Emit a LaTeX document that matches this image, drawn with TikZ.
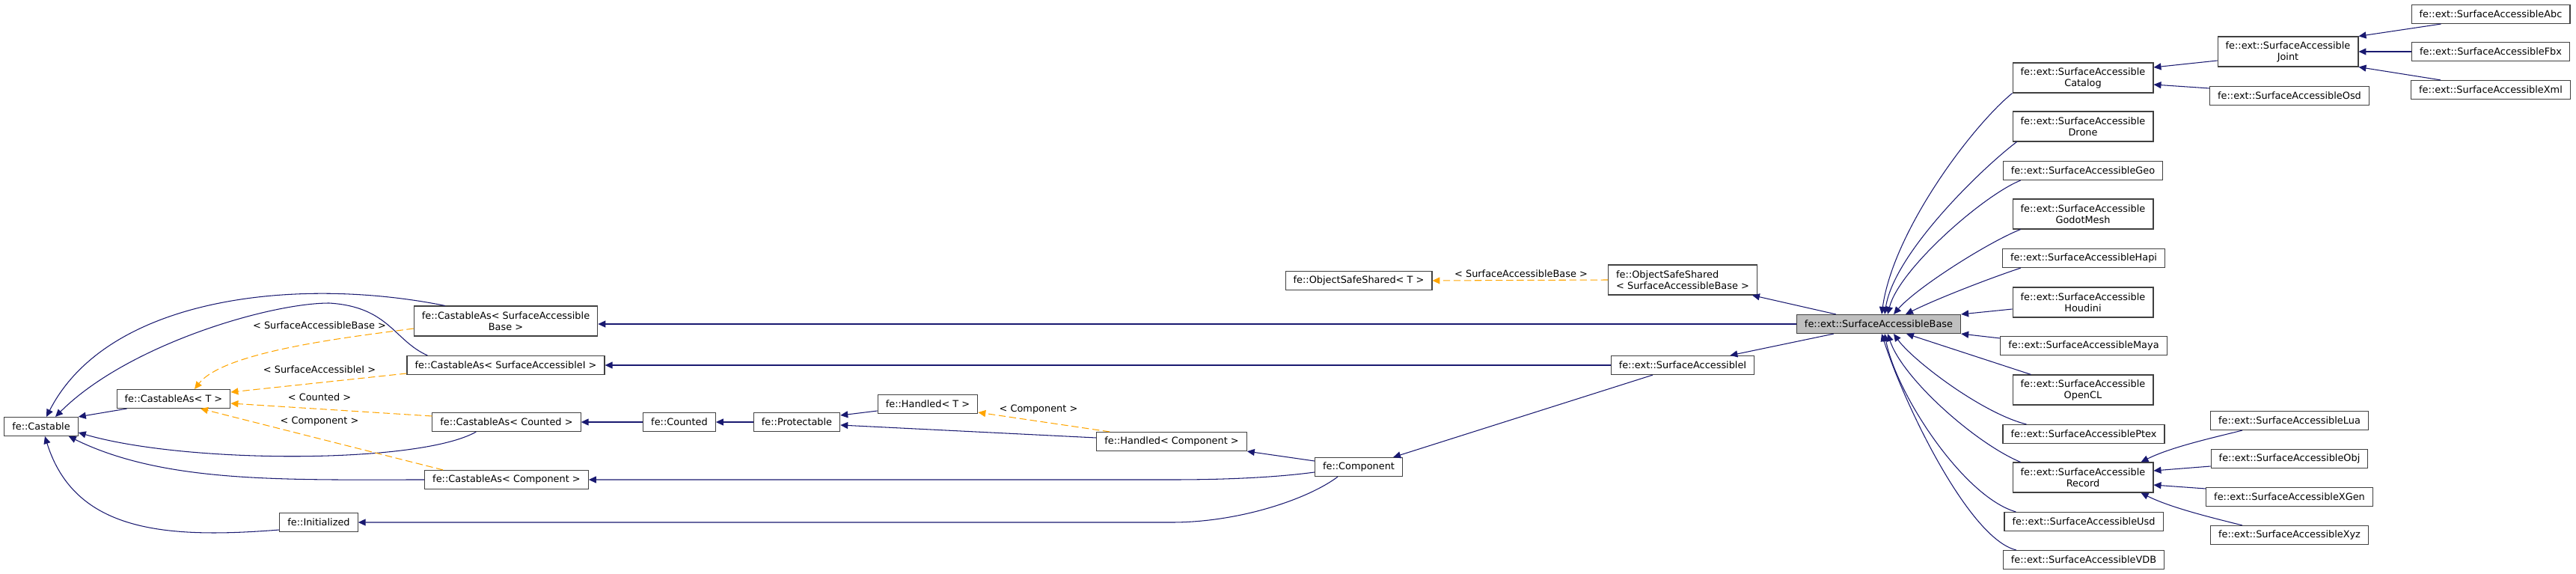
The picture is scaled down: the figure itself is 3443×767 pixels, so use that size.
\documentclass[tikz,border=0pt]{standalone}
\usepackage{fontspec}
\setmainfont{DejaVu Sans}
\usetikzlibrary{arrows.meta,calc}
\definecolor{edgeblue}{HTML}{191970}
\definecolor{tmplorange}{HTML}{FFA500}
\definecolor{boxgray}{HTML}{404040}
\definecolor{basefill}{HTML}{BFBFBF}
\begin{document}
\begin{tikzpicture}[x=0.03cm, y=-0.03cm,
		every node/.style={font=\fontsize{11}{12.8}\selectfont},
		cls/.style={draw=boxgray, line width=1pt, fill=white, inner xsep=9pt, inner ysep=2pt, minimum height=21.3pt},
		cls2/.style={cls, align=center, minimum height=34.1pt},
		inh/.style={draw=edgeblue, line width=0.9pt, -{Triangle[length=8.5pt,width=7.7pt]}},
		tmpl/.style={draw=tmplorange, line width=0.9pt, dash pattern=on 8pt off 4pt, -{Triangle[length=8.5pt,width=7.7pt]}},
		lbl/.style={inner sep=1pt}]
		\useasboundingbox (0,0) rectangle (3443,767);
		\node[cls] (castable) at (55,570) {fe::Castable};
		\node[cls] (castT) at (232,533) {fe::CastableAs< T >};
		\node[cls2] (castSAB) at (676,429) {fe::CastableAs< SurfaceAccessible\\Base >};
		\node[cls] (castSAI) at (676,488) {fe::CastableAs< SurfaceAccessibleI >};
		\node[cls] (castCnt) at (677,564) {fe::CastableAs< Counted >};
		\node[cls] (castCmp) at (677,641) {fe::CastableAs< Component >};
		\node[cls] (init) at (426,698) {fe::Initialized};
		\node[cls] (counted) at (908,564) {fe::Counted};
		\node[cls] (protect) at (1065,564) {fe::Protectable};
		\node[cls] (handT) at (1240,540) {fe::Handled< T >};
		\node[cls] (handC) at (1566,590) {fe::Handled< Component >};
		\node[cls] (component) at (1816,624) {fe::Component};
		\node[cls] (ossT) at (1816,375) {fe::ObjectSafeShared< T >};
		\node[cls2, align=left] (ossSAB) at (2249,374) {fe::ObjectSafeShared\\< SurfaceAccessibleBase >};
		\node[cls] (sai) at (2249,488) {fe::ext::SurfaceAccessibleI};
		\node[cls, fill=basefill] (sab) at (2511,433) {fe::ext::SurfaceAccessibleBase};
		\node[cls2] (catalog) at (2784,104) {fe::ext::SurfaceAccessible\\Catalog};
		\node[cls2] (drone) at (2784,169) {fe::ext::SurfaceAccessible\\Drone};
		\node[cls] (geo) at (2784,228) {fe::ext::SurfaceAccessibleGeo};
		\node[cls2] (godot) at (2784,286) {fe::ext::SurfaceAccessible\\GodotMesh};
		\node[cls] (hapi) at (2785,345) {fe::ext::SurfaceAccessibleHapi};
		\node[cls2] (houdini) at (2784,404) {fe::ext::SurfaceAccessible\\Houdini};
		\node[cls] (maya) at (2785,462) {fe::ext::SurfaceAccessibleMaya};
		\node[cls2] (opencl) at (2784,521) {fe::ext::SurfaceAccessible\\OpenCL};
		\node[cls] (ptex) at (2785,580) {fe::ext::SurfaceAccessiblePtex};
		\node[cls2] (record) at (2784,638) {fe::ext::SurfaceAccessible\\Record};
		\node[cls] (usd) at (2785,697) {fe::ext::SurfaceAccessibleUsd};
		\node[cls] (vdb) at (2785,748) {fe::ext::SurfaceAccessibleVDB};
		\node[cls2] (joint) at (3058,69) {fe::ext::SurfaceAccessible\\Joint};
		\node[cls] (osd) at (3060,128) {fe::ext::SurfaceAccessibleOsd};
		\node[cls] (abc) at (3329,19) {fe::ext::SurfaceAccessibleAbc};
		\node[cls] (fbx) at (3329,69) {fe::ext::SurfaceAccessibleFbx};
		\node[cls] (xml) at (3329,120) {fe::ext::SurfaceAccessibleXml};
		\node[cls] (lua) at (3060,562) {fe::ext::SurfaceAccessibleLua};
		\node[cls] (obj) at (3060,613) {fe::ext::SurfaceAccessibleObj};
		\node[cls] (xgen) at (3060,664) {fe::ext::SurfaceAccessibleXGen};
		\node[cls] (xyz) at (3060,715) {fe::ext::SurfaceAccessibleXyz};
		\node[lbl] (lblSAB) at (427,435) {< SurfaceAccessibleBase >};
		\node[lbl] (lblSAI) at (427,494) {< SurfaceAccessibleI >};
		\node[lbl] (lblCnt) at (427,531) {< Counted >};
		\node[lbl] (lblCmp) at (427,563) {< Component >};
		\node[lbl] (lblHand) at (1388,547) {< Component >};
		\node[lbl] (lblOss) at (2033,366) {< SurfaceAccessibleBase >};
		\draw[inh] ($(castT.south west)+(14,0)$) -- (castable.north east);
		\draw[inh] ($(castSAB.north west)+(42,0)$) .. controls +(-194,-39) and +(83,-162) .. ($(castable.north)+(7,0)$);
		\draw[inh] ($(castSAI.north west)+(28,0)$) .. controls +(-45,-20) and +(80,5) .. (440,405) .. controls +(-80,0) and +(96,-96) .. ($(castable.north)+(19,0)$);
		\draw[inh] ($(castCnt.south west)+(59,0)$) .. controls +(-76,43) and +(144,42) .. ($(castable.east)+(0,8)$);
		\draw[inh] (castCmp.west) .. controls +(-186,0) and +(128,63) .. ($(castable.south east)+(-13,0)$);
		\draw[inh] ($(init.west)+(0,10)$) .. controls +(-152,12) and +(40,128) .. ($(castable.south)+(5,0)$);
		\draw[tmpl] ($(castSAB.west)+(0,10)$) .. controls +(-82,11) and +(40,-51) .. ($(castT.north)+(28,0)$);
		\draw[tmpl] ($(castSAI.west)+(0,11)$) -- ($(castT.east)+(0,-9)$);
		\draw[tmpl] ($(castCnt.west)+(0,-8)$) -- ($(castT.east)+(0,6)$);
		\draw[tmpl] ($(castCmp.north west)+(25,0)$) -- ($(castT.south)+(36,0)$);
		\draw[inh] (counted.west) -- (castCnt.east);
		\draw[inh] (protect.west) -- (counted.east);
		\draw[inh] ($(handT.west)+(0,9)$) -- ($(protect.east)+(0,-9)$);
		\draw[inh] ($(handC.west)+(0,-5)$) -- ($(protect.east)+(0,4)$);
		\draw[tmpl] ($(handC.north west)+(18,0)$) -- ($(handT.south east)+(0,-2)$);
		\draw[inh] ($(component.west)+(0,-8)$) -- (handC.south east);
		\draw[inh] ($(component.west)+(0,7)$) .. controls +(-60,8) and +(60,0) .. (castCmp.east -| handC) -- (castCmp.east);
		\draw[inh] ($(component.south)+(-28,0)$) .. controls +(-40,30) and +(90,0) .. (init.east -| handC) -- (init.east);
		\draw[inh] ($(sai.south)+(-40,0)$) -- ($(component.north east)+(-13,0)$);
		\draw[inh] (sai.west) -- (castSAI.east);
		\draw[inh] ($(sab.south west)+(50,0)$) -- ($(sai.north east)+(-33,0)$);
		\draw[inh] (sab.west) -- ($(castSAB.east)+(0,4)$);
		\draw[inh] ($(sab.north west)+(53,0)$) -- ($(ossSAB.south east)+(-7,0)$);
		\draw[tmpl] (ossSAB.west) -- (ossT.east);
		\draw[inh] (catalog.south west) .. controls +(-55,45) and +(15,-110) .. ($(sab.north)+(4,0)$);
		\draw[inh] ($(drone.south west)+(6,0)$) .. controls +(-50,38) and +(12,-80) .. ($(sab.north)+(8,0)$);
		\draw[inh] ($(geo.south west)+(24,0)$) .. controls +(-50,20) and +(15,-60) .. ($(sab.north)+(12,0)$);
		\draw[inh] ($(godot.south west)+(11,0)$) .. controls +(-45,18) and +(30,-35) .. ($(sab.north)+(20,0)$);
		\draw[inh] ($(hapi.south west)+(25,0)$) .. controls +(-45,15) and +(40,-20) .. ($(sab.north)+(36,0)$);
		\draw[inh] ($(houdini.west)+(0,9)$) -- (sab.north east);
		\draw[inh] ($(maya.west)+(0,-10)$) -- (sab.south east);
		\draw[inh] ($(opencl.north west)+(25,0)$) -- ($(sab.south)+(37,0)$);
		\draw[inh] ($(ptex.north west)+(32,0)$) .. controls +(-60,-15) and +(25,35) .. ($(sab.south)+(20,0)$);
		\draw[inh] ($(record.north west)+(11,0)$) .. controls +(-60,-25) and +(20,60) .. ($(sab.south)+(12,0)$);
		\draw[inh] ($(usd.north west)+(16,0)$) .. controls +(-70,-20) and +(15,80) .. ($(sab.south)+(8,0)$);
		\draw[inh] ($(vdb.north west)+(18,0)$) .. controls +(-63,-15) and +(30,94) .. ($(sab.south)+(4,0)$);
		\draw[inh] ($(joint.west)+(0,12)$) -- ($(catalog.east)+(0,-14)$);
		\draw[inh] ($(osd.west)+(0,-10)$) -- ($(catalog.east)+(0,9)$);
		\draw[inh] ($(abc.south west)+(40,0)$) -- (joint.north east);
		\draw[inh] (fbx.west) -- (joint.east);
		\draw[inh] ($(xml.north west)+(40,0)$) -- (joint.south east);
		\draw[inh] ($(lua.south west)+(43,0)$) .. controls +(-40,10) and +(40,-20) .. ($(record.north east)+(-17,0)$);
		\draw[inh] ($(obj.west)+(0,10)$) -- ($(record.east)+(0,-9)$);
		\draw[inh] ($(xgen.west)+(0,-11)$) -- ($(record.east)+(0,10)$);
		\draw[inh] ($(xyz.north west)+(43,0)$) .. controls +(-40,-10) and +(40,20) .. ($(record.south east)+(-17,0)$);
	\end{tikzpicture}
\end{document}
